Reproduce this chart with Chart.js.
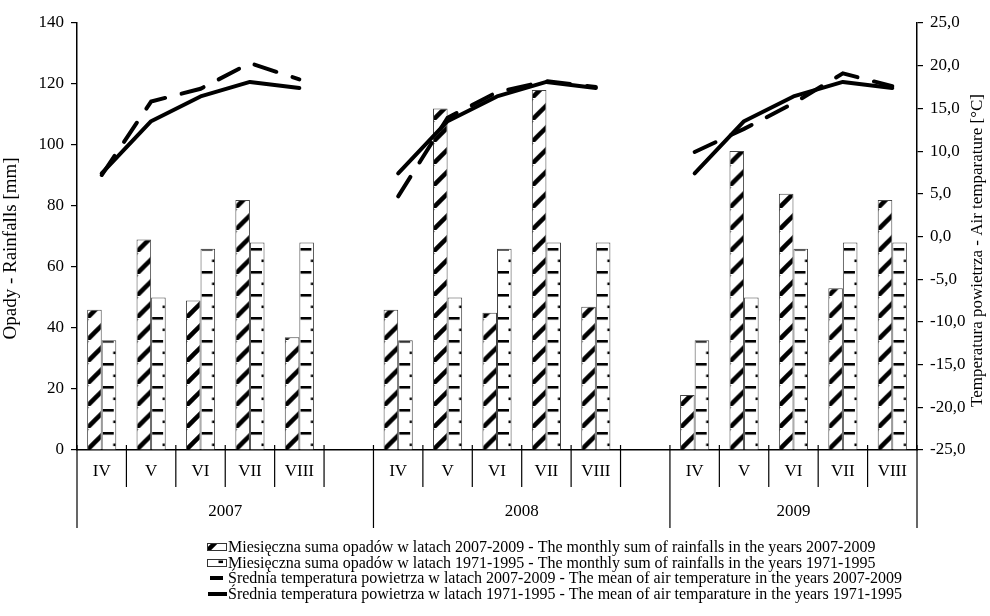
<!DOCTYPE html>
<html>
<head>
<meta charset="utf-8">
<script src="https://cdn.jsdelivr.net/npm/chart.js@4.4.0/dist/chart.umd.min.js"></script>
<style>
html, body { margin: 0; padding: 0; background: #fff; }
</style>
</head>
<body>
<canvas id="chart" width="990" height="616"></canvas>
<script>
// months per group, blank slot separates the years
var months = ['IV', 'V', 'VI', 'VII', 'VIII', '',
	'IV', 'V', 'VI', 'VII', 'VIII', '',
	'IV', 'V', 'VI', 'VII', 'VIII'];
var years = ['2007', '2008', '2009'];
var yearStart = [0, 6, 12, 17];

// rainfall [mm]
var rainRecent = [46, 69, 49, 82, 37, null, 46, 112, 45, 118, 47, null, 18, 98, 84, 53, 82];
var rainLong = [36, 50, 66, 68, 68, null, 36, 50, 66, 68, 68, null, 36, 50, 66, 68, 68];

// air temperature [°C]
var tempRecent = [7.2, 15.8, 17.3, 20.3, 18.4, null, 4.7, 13.9, 16.9, 18.2, 17.5, null, 9.9, 12.6, 15.6, 19.1, 17.6];
var tempLong = [7.4, 13.5, 16.4, 18.1, 17.4, null, 7.4, 13.5, 16.4, 18.1, 17.4, null, 7.4, 13.5, 16.4, 18.1, 17.4];

var labels = [
	'Miesięczna suma opadów w latach 2007-2009 - The monthly sum of rainfalls in the years 2007-2009',
	'Miesięczna suma opadów w latach 1971-1995 - The monthly sum of rainfalls in the years 1971-1995',
	'Średnia temperatura powietrza w latach 2007-2009 - The mean of air temperature in the years 2007-2009',
	'Średnia temperatura powietrza w latach 1971-1995 - The mean of air temparature in the years 1971-1995'
];
var leftTitle = 'Opady - Rainfalls [mm]';
var rightTitle = 'Temperatura powietrza - Air temparature [°C]';

var serif = 'Liberation Serif';
var catPct = 0.59;

// tiles for the two bar fills
function hatchTile() {
	var s = 22;
	var c = document.createElement('canvas');
	c.width = s; c.height = s;
	var g = c.getContext('2d');
	g.fillStyle = '#fff';
	g.fillRect(0, 0, s, s);
	g.strokeStyle = '#000';
	g.lineWidth = 4.5;
	for (var k = -1; k <= 1; k++) {
		g.beginPath();
		g.moveTo(k * s, s);
		g.lineTo(k * s + s, 0);
		g.stroke();
	}
	return c;
}

function dashTile() {
	var c = document.createElement('canvas');
	c.width = 16; c.height = 23;
	var g = c.getContext('2d');
	g.fillStyle = '#fff';
	g.fillRect(0, 0, 16, 23);
	g.fillStyle = '#000';
	g.fillRect(1, 5, 11, 2.6);
	g.fillRect(11.5, 16.5, 4.5, 2.6);
	return c;
}

var tiles = [hatchTile(), dashTile()];

function patternAt(g, tile, x, y) {
	var p = g.createPattern(tile, 'repeat');
	p.setTransform(new DOMMatrix([1, 0, 0, 1, x, y]));
	return p;
}

// pattern anchored to the bar's own left edge
function barFill(k) {
	return function(c) {
		var chart = c.chart;
		var x = chart.scales.x;
		if (c.type !== 'data' || !x || !chart.chartArea) return '#fff';
		var slot = x.getPixelForValue(1) - x.getPixelForValue(0);
		var bw = slot * catPct / 2;
		var left = x.getPixelForValue(c.dataIndex) - bw + k * bw;
		return patternAt(chart.ctx, tiles[k], left, chart.chartArea.bottom);
	};
}

var bottomAxis = {
	id: 'bottomAxis',
	afterDraw: function(chart) {
		var x = chart.scales.x;
		var g = chart.ctx;
		var area = chart.chartArea;
		var y0 = area.bottom;
		var w = x.getPixelForValue(1) - x.getPixelForValue(0);
		g.save();
		g.strokeStyle = '#000';
		g.lineWidth = 1.2;
		g.fillStyle = '#000';
		g.font = '17px "' + serif + '"';
		g.textAlign = 'center';
		g.textBaseline = 'middle';
		for (var i = 0; i <= months.length; i++) {
			var bx = x.getPixelForValue(0) - w / 2 + i * w;
			var long = yearStart.indexOf(i) >= 0;
			g.beginPath();
			g.moveTo(bx, y0 - 5);
			g.lineTo(bx, long ? y0 + 78 : y0 + 37);
			g.stroke();
			if (i < months.length && months[i]) {
				g.fillText(months[i], x.getPixelForValue(i), y0 + 22);
			}
		}
		for (var j = 0; j < years.length; j++) {
			var a = x.getPixelForValue(yearStart[j]) - w / 2;
			var b = x.getPixelForValue(yearStart[j + 1] - 1) + w / 2;
			g.fillText(years[j], (a + b) / 2, y0 + 62);
		}

		// axis titles, both read bottom to top
		var mid = (area.top + area.bottom) / 2 + 12;
		g.save();
		g.translate(11, mid);
		g.rotate(-Math.PI / 2);
		g.font = '19px "' + serif + '"';
		g.fillText(leftTitle, 0, 0);
		g.restore();
		g.save();
		g.translate(978, mid + 2);
		g.rotate(-Math.PI / 2);
		g.font = '17px "' + serif + '"';
		g.fillText(rightTitle, 0, 0);
		g.restore();
		g.restore();
	}
};

var legendBox = {
	id: 'legendBox',
	afterDraw: function(chart) {
		var g = chart.ctx;
		var rows = [547, 563, 578, 594];
		g.save();
		g.font = '16px "' + serif + '"';
		g.textBaseline = 'middle';
		g.textAlign = 'left';
		chart.data.datasets.forEach(function(ds, i) {
			var y = rows[i];
			if (ds.type === 'line') {
				g.strokeStyle = '#000';
				g.lineWidth = 4;
				g.lineCap = 'butt';
				g.beginPath();
				if (ds.borderDash && ds.borderDash.length) {
					g.moveTo(210, y);
					g.lineTo(223, y);
				} else {
					g.moveTo(208, y);
					g.lineTo(227, y);
				}
				g.stroke();
			} else {
				g.fillStyle = patternAt(g, tiles[i], 207, y + 4);
				g.fillRect(207, y - 3, 19, 7);
				g.strokeStyle = '#333';
				g.lineWidth = 1;
				g.strokeRect(207.5, y - 3.5, 19, 7);
			}
			g.fillStyle = '#000';
			g.fillText(ds.label, 228, y + 1);
		});
		g.restore();
	}
};

var ctx = document.getElementById('chart').getContext('2d');
var chart = new Chart(ctx, {
	data: {
		labels: months,
		datasets: [{
			type: 'bar',
			label: labels[0],
			data: rainRecent,
			yAxisID: 'y',
			backgroundColor: barFill(0),
			borderColor: '#444',
			borderWidth: 1,
			order: 1
		}, {
			type: 'bar',
			label: labels[1],
			data: rainLong,
			yAxisID: 'y',
			backgroundColor: barFill(1),
			borderColor: '#444',
			borderWidth: 1,
			order: 1
		}, {
			type: 'line',
			label: labels[2],
			data: tempRecent,
			yAxisID: 'y1',
			borderColor: '#000',
			borderWidth: 4,
			borderDash: [23, 17],
			borderCapStyle: 'round',
			pointRadius: 0,
			tension: 0,
			spanGaps: false,
			order: 0
		}, {
			type: 'line',
			label: labels[3],
			data: tempLong,
			yAxisID: 'y1',
			borderColor: '#000',
			borderWidth: 4,
			borderJoinStyle: 'round',
			borderCapStyle: 'round',
			pointRadius: 0,
			tension: 0,
			spanGaps: false,
			order: 0
		}]
	},
	options: {
		responsive: false,
		animation: false,
		layout: { padding: { top: 23, left: 0, right: 0, bottom: 0 } },
		datasets: {
			bar: { categoryPercentage: catPct, barPercentage: 1.0 }
		},
		plugins: {
			legend: { display: false },
			tooltip: { enabled: false }
		},
		scales: {
			x: {
				type: 'category',
				offset: true,
				grid: { display: false },
				ticks: { display: false },
				border: { color: '#000', width: 1.5 },
				afterFit: function(scale) { scale.height = 166; }
			},
			y: {
				position: 'left',
				min: 0,
				max: 140,
				ticks: {
					stepSize: 20,
					color: '#000',
					padding: 7,
					font: { family: serif, size: 17 }
				},
				grid: { drawOnChartArea: false, color: '#000', tickLength: 6, lineWidth: 1.2 },
				border: { color: '#000', width: 1.5 },
				afterFit: function(scale) { scale.width = 77; }
			},
			y1: {
				position: 'right',
				min: -25,
				max: 25,
				ticks: {
					stepSize: 5,
					color: '#000',
					padding: 7,
					font: { family: serif, size: 17 },
					callback: function(v) { return v.toFixed(1).replace('.', ','); }
				},
				grid: { drawOnChartArea: false, color: '#000', tickLength: 6, lineWidth: 1.2 },
				border: { color: '#000', width: 1.5 },
				afterFit: function(scale) { scale.width = 73; }
			}
		}
	},
	plugins: [bottomAxis, legendBox]
});
</script>
</body>
</html>
